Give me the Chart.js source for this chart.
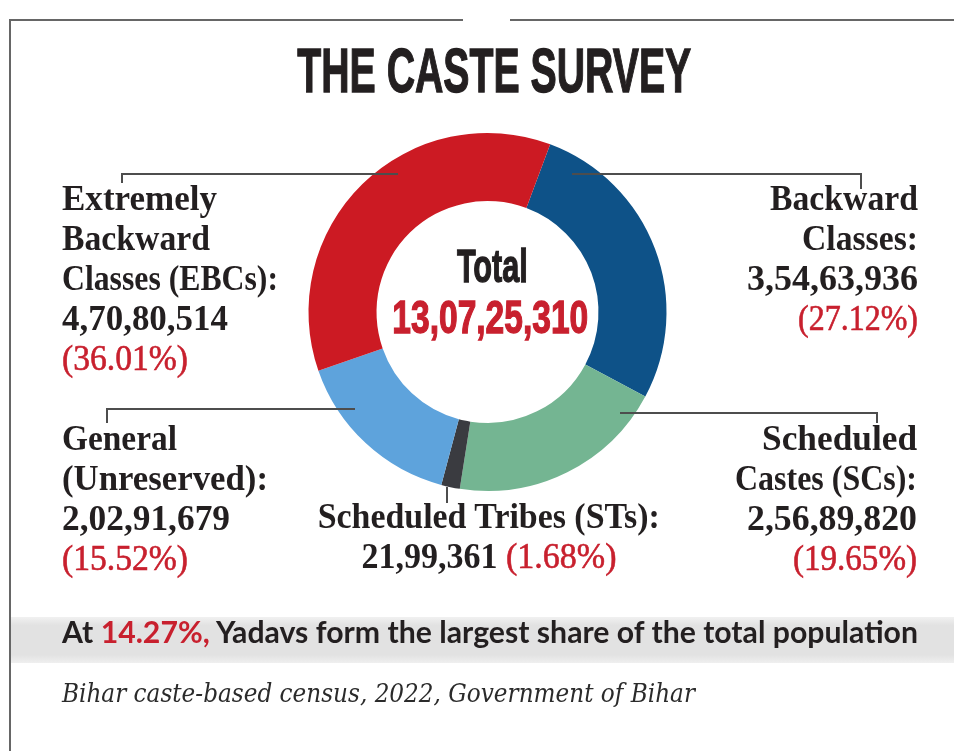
<!DOCTYPE html>
<html lang="en">
<head>
<meta charset="UTF-8">
<title>The Caste Survey</title>
<script src="https://cdn.jsdelivr.net/npm/chart.js"></script>
<style>
  body { margin: 0; background: #fff; }
  #page { position: relative; width: 954px; height: 751px; overflow: hidden; background: #fff; }
  #chart { position: absolute; left: 0; top: 0; }
  .rule { position: absolute; background: #666; }
  .band {
    position: absolute; left: 11px; right: 0; top: 617px; height: 46px;
    background: linear-gradient(to bottom, #f1f1f1 0%, #e2e2e2 18%, #e2e2e2 82%, #efefef 100%);
  }
  .txt { position: absolute; left: 0; top: 0; white-space: nowrap; line-height: 1; color: #231f20; }
  .lbl { font-family: 'Liberation Serif', 'DejaVu Serif', serif; font-weight: bold; font-size: 36px; }
  .red { color: #c8202e; }
  .pct { font-weight: normal; -webkit-text-stroke: 0.6px #c8202e; }
  .cond { font-family: 'Liberation Sans Narrow', 'Liberation Sans', Roboto, sans-serif; font-weight: bold; -webkit-text-stroke: 1.3px currentColor; }
  .note { font-family: Lato, 'Open Sans', sans-serif; font-weight: bold; font-size: 31px; }
  .src { font-family: 'DejaVu Serif', 'Liberation Serif', serif; font-style: italic; font-size: 26px; color: #2b2b2b; }
</style>
</head>
<body>
<div id="page">
  <div class="rule" style="left:9px; top:19px; width:2px; height:732px;"></div>
  <div class="rule" style="left:9px; top:19px; width:454px; height:2px;"></div>
  <div class="rule" style="left:510px; top:19px; width:444px; height:2px;"></div>
  <div class="band"></div>
  <canvas id="chart" width="954" height="751"></canvas>
</div>

<script>
// data, slice order clockwise from the top right
const categories = ['Backward Classes', 'Scheduled Castes (SCs)', 'Scheduled Tribes (STs)', 'General (Unreserved)', 'Extremely Backward Classes (EBCs)'];
const population = [35463936, 25689820, 2199361, 20291679, 47080514];
const shares = [27.12, 19.65, 1.68, 15.52, 36.01];
const totalPopulation = 130725310;
const yadavShare = 14.27;
const sliceColors = ['#0e5288', '#74b592', '#3a3b40', '#5ea3dc', '#cc1a23'];

// how each category name is broken into lines
const nameLines = [
  ['Backward', 'Classes:'],
  ['Scheduled', 'Castes (SCs):'],
  ['Scheduled Tribes (STs):'],
  ['General', '(Unreserved):'],
  ['Extremely', 'Backward', 'Classes (EBCs):']
];

// label placement: anchor x, alignment, first baseline, fitted widths per line
const labelLayout = [
  { x: 918, align: 'right', base: 210, widths: [148, 116, 171, 120] },
  { x: 917, align: 'right', base: 450, widths: [155, 182, 170, 124] },
  { x: 489, align: 'center', base: 528, widths: [342, 255] },
  { x: 62, align: 'left', base: 450, widths: [115, 206, 168, 126] },
  { x: 62, align: 'left', base: 210, widths: [155, 148, 216, 166, 126] }
];
const lineGap = 40;

// leader lines drawn over the ring
const leaders = [
  [[861, 189], [861, 174], [572, 174]],
  [[877, 423], [877, 413], [620, 413]],
  [[447, 487], [447, 503]],
  [[107, 423], [107, 409], [355, 409]],
  [[122, 183], [122, 174], [398, 174]]
];

function indianFormat(n) {
  const s = String(n);
  if (s.length <= 3) return s;
  let head = s.slice(0, -3);
  const tail = s.slice(-3);
  const parts = [];
  while (head.length > 2) {
    parts.unshift(head.slice(-2));
    head = head.slice(0, -2);
  }
  if (head) parts.unshift(head);
  return parts.join(',') + ',' + tail;
}

const page = document.getElementById('page');

function place(el, x, baseline, align, width) {
  const strut = document.createElement('span');
  strut.style.cssText = 'display:inline-block;width:0;height:0;vertical-align:baseline';
  el.appendChild(strut);
  page.appendChild(el);
  const natural = el.getBoundingClientRect().width;
  el.style.top = (baseline - strut.offsetTop) + 'px';
  let left = x;
  if (align === 'right') left = x - natural;
  if (align === 'center') left = x - natural / 2;
  el.style.left = left + 'px';
  el.style.transformOrigin = align;
  el.style.transform = 'scaleX(' + (width / natural) + ')';
}

function makeLine(cls, html) {
  const el = document.createElement('div');
  el.className = 'txt ' + cls;
  el.innerHTML = html;
  return el;
}

function drawTexts() {
  const title = makeLine('cond', 'THE CASTE SURVEY');
  title.style.fontSize = '63px';
  place(title, 494, 92, 'center', 394);

  const tot = makeLine('cond', 'Total');
  tot.style.fontSize = '47px';
  place(tot, 492, 282, 'center', 71);

  const totNum = makeLine('cond red', indianFormat(totalPopulation));
  totNum.style.fontSize = '46px';
  place(totNum, 490, 333, 'center', 196);

  categories.forEach((cat, i) => {
    const lay = labelLayout[i];
    const lines = nameLines[i].slice();
    const num = indianFormat(population[i]);
    const pct = '<span class="red pct">(' + shares[i].toFixed(2) + '%)</span>';
    if (lines.length === 1) {
      lines.push(num + ' ' + pct);
    } else {
      lines.push(num, pct);
    }
    lines.forEach((txt, j) => {
      place(makeLine('lbl', txt), lay.x, lay.base + j * lineGap, lay.align, lay.widths[j]);
    });
  });

  const note = makeLine('note', 'At <span class="red">' + yadavShare.toFixed(2) + '%,</span> Yadavs form the largest share of the total population');
  place(note, 62, 643, 'left', 856);

  const src = makeLine('src', 'Bihar caste-based census, 2022, Government of Bihar');
  place(src, 62, 702, 'left', 633);
}

const leaderPlugin = {
  id: 'leaders',
  afterDraw(chart) {
    const ctx = chart.ctx;
    ctx.save();
    ctx.strokeStyle = '#4d4d4d';
    ctx.lineWidth = 2;
    leaders.forEach(pts => {
      ctx.beginPath();
      pts.forEach((p, k) => k ? ctx.lineTo(p[0], p[1]) : ctx.moveTo(p[0], p[1]));
      ctx.stroke();
    });
    ctx.restore();
  }
};

new Chart(document.getElementById('chart').getContext('2d'), {
  type: 'doughnut',
  data: {
    labels: categories,
    datasets: [{
      data: population,
      backgroundColor: sliceColors,
      borderWidth: 0
    }]
  },
  options: {
    responsive: false,
    animation: false,
    rotation: 20.5,
    cutout: '62%',
    layout: { padding: { left: 308, top: 133, right: 287, bottom: 260 } },
    plugins: {
      legend: { display: false },
      tooltip: { enabled: false }
    }
  },
  plugins: [leaderPlugin]
});

document.fonts.ready.then(drawTexts);
</script>
</body>
</html>
